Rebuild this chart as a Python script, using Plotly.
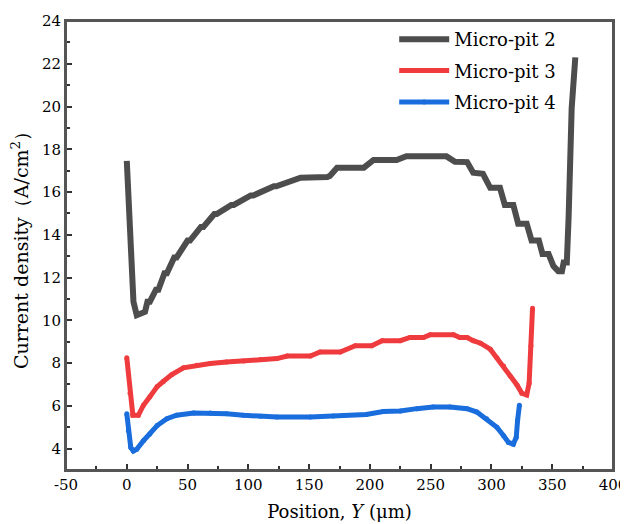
import plotly.graph_objects as go

# Micro-pit 2 (black)
x2 = [0, 4.1, 5.5, 8.2, 15, 17, 19, 24, 26, 31, 33, 39, 41, 50, 52, 61, 63, 72, 74, 86, 88, 102, 104, 121, 123,
      143, 145, 165, 167, 173, 195, 203, 222, 230, 263, 270, 280, 285, 293, 299, 307, 311, 318, 322, 329,
      333, 339, 342, 347, 351, 355, 358, 359.4, 362, 363.5, 365, 366, 369]
y2 = [17.46, 12.95, 10.87, 10.24, 10.4, 10.87, 10.87, 11.43, 11.43, 12.2, 12.2, 12.94, 12.94, 13.73, 13.73,
      14.37, 14.37, 14.97, 14.97, 15.4, 15.4, 15.84, 15.84, 16.27, 16.27, 16.67, 16.67, 16.7, 16.75, 17.14,
      17.14, 17.5, 17.5, 17.68, 17.67, 17.42, 17.4, 16.9, 16.85, 16.2, 16.2, 15.4, 15.4, 14.52, 14.52,
      13.73, 13.73, 13.1, 13.1, 12.54, 12.3, 12.3, 12.7, 12.7, 14.84, 18.17, 19.92, 22.3]

# Micro-pit 3 (red)
x3 = [0, 2.7, 5, 9.5, 13.7, 19, 25, 30, 37, 46.6, 57.6, 68.6, 82, 96, 110, 123.5, 132, 151, 159, 175.6, 188,
      201.5, 210, 225, 233, 244, 249.6, 268.8, 274, 280, 285, 291, 299, 304.5, 310, 315.5, 321, 325, 329,
      331, 332.5, 333.8]
y3 = [8.25, 6.59, 5.56, 5.56, 6.03, 6.43, 6.9, 7.14, 7.46, 7.78, 7.9, 7.98, 8.05, 8.1, 8.17, 8.21, 8.33,
      8.33, 8.52, 8.52, 8.81, 8.81, 9.05, 9.05, 9.2, 9.2, 9.33, 9.33, 9.2, 9.2, 9.05, 8.93, 8.65, 8.25,
      7.86, 7.38, 6.98, 6.59, 6.51, 7.06, 8.8, 10.56]

# Micro-pit 4 (blue)
x4 = [0, 1.3, 3.3, 5.4, 8.2, 13.7, 19, 25, 33, 41, 55, 68.6, 82, 96, 110, 123.5, 151, 170, 197, 211, 225,
      238.6, 252, 266, 280, 288, 296, 304.5, 310, 314, 318, 320.4, 321.5, 323]
y4 = [5.63, 4.84, 4.05, 3.89, 3.97, 4.37, 4.68, 5.08, 5.4, 5.56, 5.67, 5.67, 5.63, 5.56, 5.51, 5.48, 5.48,
      5.52, 5.6, 5.74, 5.76, 5.87, 5.95, 5.95, 5.87, 5.71, 5.4, 5.0, 4.6, 4.29, 4.21, 4.52, 5.32, 6.03]

names = ["Micro-pit 2", "Micro-pit 3", "Micro-pit 4"]
x_ticks = [-50, 0, 50, 100, 150, 200, 250, 300, 350, 400]
y_ticks = [4, 6, 8, 10, 12, 14, 16, 18, 20, 22, 24]

FONT = "DejaVu Serif"
LINE = "#333333"
FRAME = "#555555"

fig = go.Figure()
fig.add_trace(go.Scatter(x=x2, y=y2, mode="lines", name=names[0], legendgroup="g2",
                         line=dict(color="#4d4d4d", width=6)))
fig.add_trace(go.Scatter(x=x3, y=y3, mode="lines+markers", name=names[1], legendgroup="g3",
                         line=dict(color="#ef3b3e", width=5),
                         marker=dict(color="#ef3b3e", size=5)))
fig.add_trace(go.Scatter(x=x4, y=y4, mode="lines+markers", name=names[2], legendgroup="g4",
                         line=dict(color="#1a6ddc", width=5),
                         marker=dict(color="#1a6ddc", size=5)))

axis_common = dict(showgrid=False, zeroline=False, showline=True, linewidth=2, linecolor=FRAME,
                   mirror=True, ticks="inside", ticklen=6, tickwidth=2, tickcolor=LINE,
                   automargin=False, ticklabeloverflow="allow",
                   tickfont=dict(family=FONT, size=15, color="black"))

fig.update_xaxes(range=[-50, 400], tickvals=x_ticks, ticktext=[str(v) for v in x_ticks],
                 minor=dict(dtick=25, ticks="inside", ticklen=4, tickwidth=2, tickcolor=LINE, tick0=-50),
                 title=dict(text="Position, <i>Y</i> (μm)",
                            font=dict(family=FONT, size=18, color="black"), standoff=12),
                 **axis_common)
fig.update_yaxes(range=[3, 24], tickvals=y_ticks, ticktext=[str(v) for v in y_ticks],
                 minor=dict(dtick=1, ticks="inside", ticklen=4, tickwidth=2, tickcolor=LINE, tick0=0),
                 title=dict(text="Current density（A/cm<sup>2</sup>）",
                            font=dict(family=FONT, size=19, color="black"), standoff=10),
                 **axis_common)

# frame around the plot area
fig.add_shape(type="rect", xref="paper", yref="paper", x0=0, y0=0, x1=1, y1=1,
              line=dict(color=FRAME, width=2), layer="above")

# page body adds an 8px margin at top/left, so the figure is sized to fill the 628x524 window
fig.update_layout(
    width=620, height=516,
    margin=dict(l=58, r=15, t=13, b=54),
    paper_bgcolor="white", plot_bgcolor="white",
    font=dict(family=FONT, color="black"),
    legend=dict(x=0.60, y=1.0, xanchor="left", yanchor="top", bgcolor="rgba(0,0,0,0)",
                font=dict(family=FONT, size=18, color="black"), tracegroupgap=5,
                traceorder="grouped", itemwidth=50),
    showlegend=True,
)

fig.write_html("out.html")
